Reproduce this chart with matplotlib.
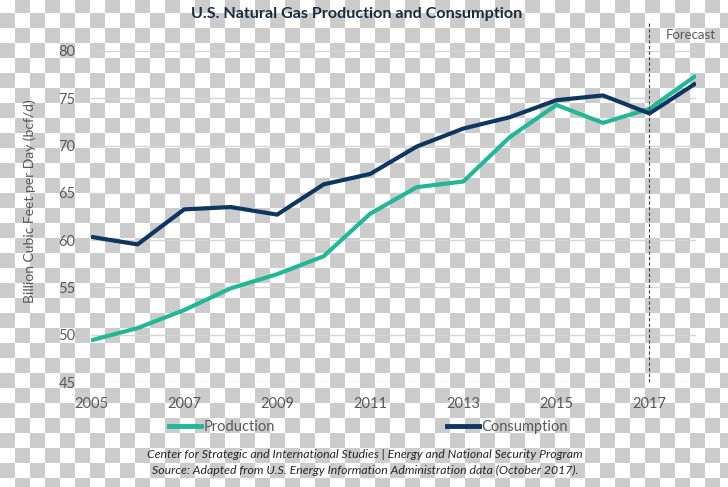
import numpy as np
import matplotlib
matplotlib.use("Agg")
import matplotlib.pyplot as plt
from matplotlib.lines import Line2D

years = list(range(2005, 2019))
production = [49.4, 50.7, 52.6, 54.9, 56.4, 58.3, 62.8, 65.6, 66.2, 70.9, 74.3, 72.4, 73.9, 77.4]
consumption = [60.35, 59.55, 63.25, 63.5, 62.7, 65.9, 67.0, 69.9, 71.8, 73.0, 74.8, 75.3, 73.4, 76.6]
xticks = [2005, 2007, 2009, 2011, 2013, 2015, 2017]
yticks = [45, 50, 55, 60, 65, 70, 75, 80]
forecast_year = 2017

W, H = 728, 487
plt.rcParams['font.family'] = ['Lato', 'DejaVu Sans']

fig = plt.figure(figsize=(W / 100, H / 100), dpi=100)
fig.patch.set_facecolor('white')

# checkerboard background
yy, xx = np.mgrid[0:H, 0:W]
chk = ((xx // 15) + ((yy + 2) // 15)) % 2 == 1
bg = np.ones((H, W, 3))
bg[chk] = 204 / 255
fig.figimage(bg, xo=0, yo=0, origin='upper', zorder=-10)

ax = fig.add_axes([91 / W, 1 - 382 / H, (696 - 91) / W, (382 - 51) / H])
ax.set_facecolor('none')

teal = '#22b896'
navy = '#0d3660'
ax.plot(years, production, color=teal, lw=3.0, solid_capstyle='butt', zorder=3)
ax.plot(years, consumption, color=navy, lw=3.0, solid_capstyle='butt', zorder=4)

ax.set_xlim(2005, 2018)
ax.set_ylim(45, 80)
ax.set_yticks(yticks)
ax.set_xticks(xticks)
ax.grid(axis='y', color='#d4d4d4', lw=1.0)
ax.set_axisbelow(True)
for s in ax.spines.values():
    s.set_visible(False)
ax.tick_params(axis='both', length=0, colors='#595959', labelsize=10.5)
ax.tick_params(axis='y', pad=11)
ax.tick_params(axis='x', pad=10.5)

ax.axvline(forecast_year, ymin=0, ymax=(382 - 22) / (382 - 51), color='#404040',
           lw=0.8, ls=(0, (3, 2)), clip_on=False, zorder=5)
fig.text(666 / W, 1 - 35 / H, 'Forecast', color='#595959', fontsize=9.5,
         ha='left', va='center')

fig.text(30 / W, 1 - 201 / H, 'Billion Cubic Feet per Day (bcf/d)', rotation=90,
         color='#595959', fontsize=10, ha='center', va='center')

fig.text(357 / W, 1 - 14 / H, 'U.S. Natural Gas Production and Consumption',
         color='#1c2c40', fontsize=11.6, fontweight='bold', ha='center', va='center')

handles = [Line2D([], [], color=teal, lw=3.5), Line2D([], [], color=navy, lw=3.5)]
fig.legend(handles, ['Production', 'Consumption'], loc='center left',
           bbox_to_anchor=(169 / W, 1 - 427 / H), ncol=2, frameon=False,
           fontsize=10.5, labelcolor='#595959', handlelength=2.2, handletextpad=0.15,
           columnspacing=11.8, borderpad=0, borderaxespad=0)

fig.text(365 / W, 1 - 455 / H,
         'Center for Strategic and International Studies | Energy and National Security Program',
         color='#262626', fontsize=8.8, style='italic', ha='center', va='center')
fig.text(365 / W, 1 - 470 / H,
         'Source: Adapted from U.S. Energy Information Administration data (October 2017).',
         color='#262626', fontsize=8.8, style='italic', ha='center', va='center')

fig.savefig('out.png', dpi=100)
